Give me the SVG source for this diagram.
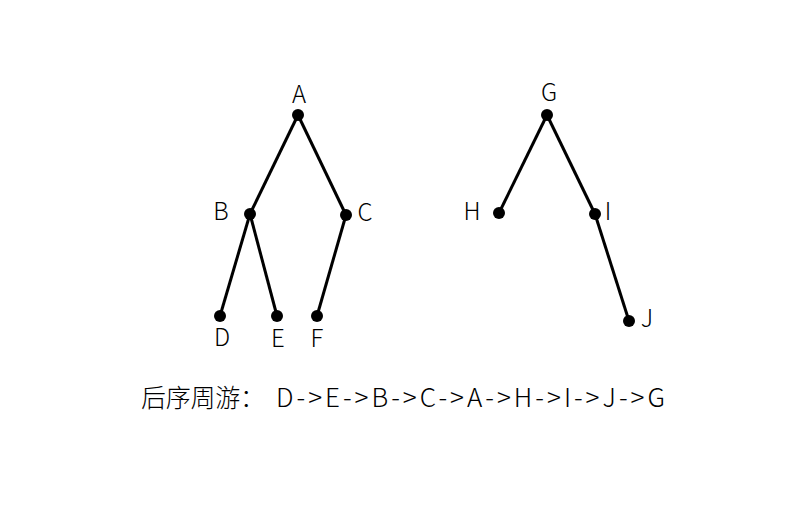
<svg xmlns="http://www.w3.org/2000/svg" width="805" height="525" viewBox="0 0 805 525">
<style>
.e{stroke:#000;stroke-width:3;fill:none}
.n{fill:#000}
.t{font-family:"Noto Sans CJK SC","Noto Sans",sans-serif;font-size:24px;font-weight:300;fill:#000}
</style>
<rect width="805" height="525" fill="#fff"/>
<g id="connectors">
<line class="e" x1="298" y1="115" x2="250" y2="214"/>
<line class="e" x1="298" y1="115" x2="346" y2="215"/>
<line class="e" x1="250" y1="214" x2="220" y2="316"/>
<line class="e" x1="250" y1="214" x2="277" y2="316"/>
<line class="e" x1="346" y1="215" x2="317" y2="316"/>
<line class="e" x1="547" y1="115" x2="499" y2="213"/>
<line class="e" x1="547" y1="115" x2="595" y2="214"/>
<line class="e" x1="595" y1="214" x2="629" y2="321"/>
</g>
<g id="A"><circle class="n" cx="298" cy="115" r="6"/><text class="t" x="299" y="103" text-anchor="middle">A</text></g>
<g id="B"><circle class="n" cx="250" cy="214" r="6"/><text class="t" x="221" y="220" text-anchor="middle">B</text></g>
<g id="C"><circle class="n" cx="346" cy="215" r="6"/><text class="t" x="365" y="221" text-anchor="middle">C</text></g>
<g id="D"><circle class="n" cx="220" cy="316" r="6"/><text class="t" x="222" y="346" text-anchor="middle">D</text></g>
<g id="E"><circle class="n" cx="277" cy="316" r="6"/><text class="t" x="278" y="347" text-anchor="middle">E</text></g>
<g id="F"><circle class="n" cx="317" cy="316" r="6"/><text class="t" x="317" y="347" text-anchor="middle">F</text></g>
<g id="G"><circle class="n" cx="547" cy="115" r="6"/><text class="t" x="549" y="101" text-anchor="middle">G</text></g>
<g id="H"><circle class="n" cx="499" cy="213" r="6"/><text class="t" x="472" y="220" text-anchor="middle">H</text></g>
<g id="I"><circle class="n" cx="595" cy="214" r="6"/><text class="t" x="608" y="220" text-anchor="middle">I</text></g>
<g id="J"><circle class="n" cx="629" cy="321" r="6"/><text class="t" x="647" y="327" text-anchor="middle">J</text></g>
<text class="t" style="font-size:25px" y="407"><tspan x="141" textLength="124" lengthAdjust="spacing">后序周游：</tspan><tspan x="276" style="font-size:26px" textLength="389" lengthAdjust="spacing">D-&gt;E-&gt;B-&gt;C-&gt;A-&gt;H-&gt;I-&gt;J-&gt;G</tspan></text>
</svg>
